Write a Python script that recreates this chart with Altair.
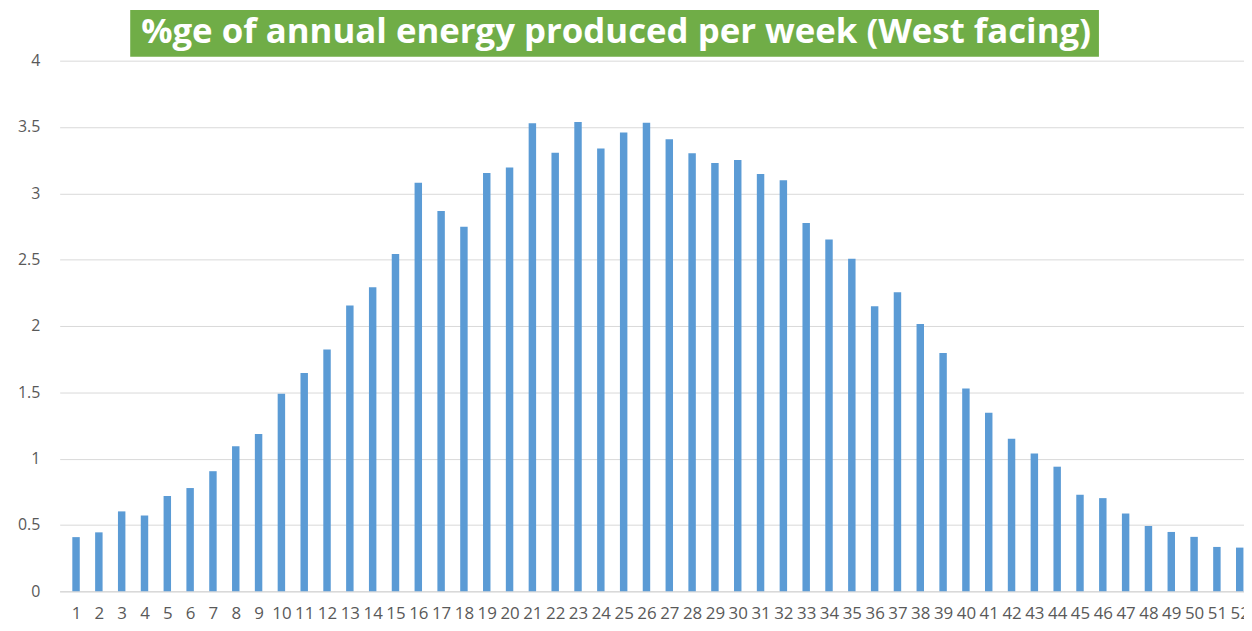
import altair as alt
import pandas as pd

weeks = list(range(1, 53))
values = [
    0.408, 0.444, 0.602, 0.571, 0.718, 0.778, 0.905, 1.094, 1.186, 1.489,
    1.646, 1.823, 2.154, 2.291, 2.543, 3.080, 2.867, 2.748, 3.153, 3.195,
    3.529, 3.306, 3.537, 3.337, 3.458, 3.532, 3.408, 3.303, 3.229, 3.251,
    3.145, 3.098, 2.777, 2.651, 2.506, 2.149, 2.254, 2.014, 1.796, 1.528,
    1.346, 1.149, 1.039, 0.939, 0.728, 0.702, 0.586, 0.492, 0.447, 0.410,
    0.334, 0.329,
]
y_ticks = [0, 0.5, 1, 1.5, 2, 2.5, 3, 3.5, 4]
title_text = "%ge of annual energy produced per week (West facing)"

df = pd.DataFrame({"week": weeks, "pct": values})

W, H = 1192, 534
LABEL_COLOR = "#595959"
FONT = "Open Sans"

bars = alt.Chart(df).mark_bar(color="#5B9BD5", size=7.5).encode(
    x=alt.X(
        "week:Q",
        scale=alt.Scale(domain=[0.5, 51.97], nice=False, zero=False),
        axis=alt.Axis(
            values=weeks, title=None, grid=False, ticks=False, tickSize=0,
            labelOverlap=False, labelFlush=False, labelFontSize=17,
            labelFont=FONT, labelColor=LABEL_COLOR, labelPadding=14,
            domainColor="#d9d9d9", domainWidth=1.5,
        ),
    ),
    y=alt.Y(
        "pct:Q",
        scale=alt.Scale(domain=[0, 4], nice=False),
        axis=alt.Axis(
            values=y_ticks, title=None, domain=False, ticks=False, tickSize=0,
            format="~g",
            gridColor="#d9d9d9", gridWidth=1, labelFontSize=16, labelFont=FONT,
            labelColor=LABEL_COLOR, labelPadding=20,
        ),
    ),
)

title_box = alt.Chart(alt.Data(values=[{}])).mark_rect(color="#70AD47").encode(
    x=alt.value(71), x2=alt.value(1046), y=alt.value(-51), y2=alt.value(-4)
)
title_label = alt.Chart(alt.Data(values=[{}])).mark_text(
    text=title_text, color="white", font=FONT, fontWeight="bold", fontSize=35,
    align="center", baseline="middle",
).encode(x=alt.value(560), y=alt.value(-29))

chart = alt.layer(bars, title_box, title_label).properties(
    width=W, height=H,
    background="white",
    autosize=alt.AutoSizeParams(type="none"),
    padding={"left": 52, "top": 51, "right": 0, "bottom": 38},
).configure_view(stroke="transparent", strokeWidth=0)

chart.save("out.html", embed_options={"renderer": "svg", "actions": False})
